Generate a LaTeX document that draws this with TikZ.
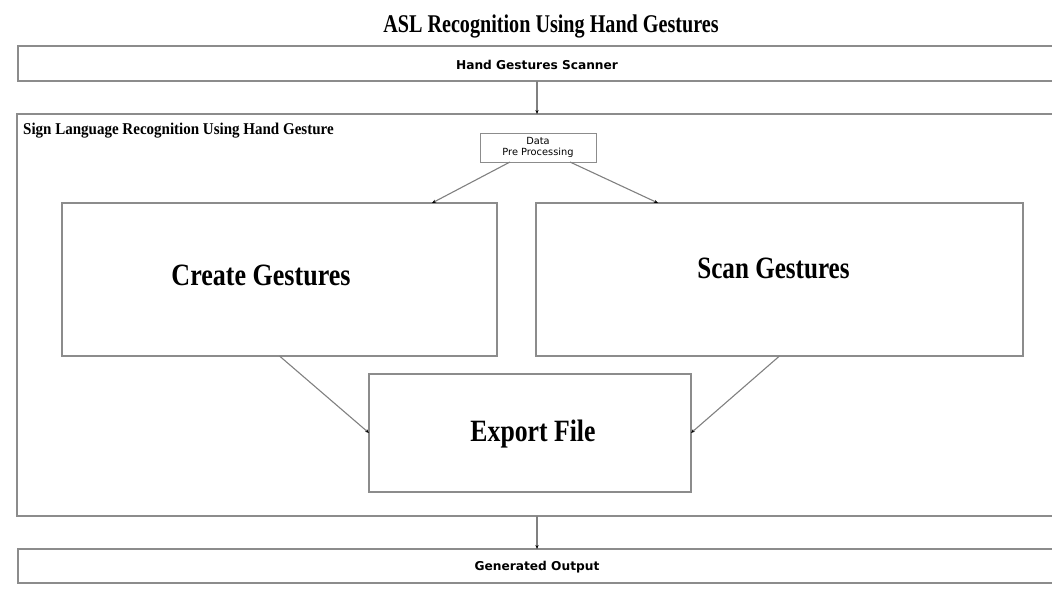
\documentclass[tikz,border=0pt]{standalone}
\usepackage{fontspec}
\usepackage{graphicx}
\setmainfont{Liberation Serif}
\newfontfamily\boxsans{DejaVu Sans}
\usetikzlibrary{arrows.meta,calc}

% horizontally condensed text
\newcommand{\squeeze}[2]{\scalebox{#1}[1]{#2}}

\tikzset{
  frame/.style={draw=black!45, line width=1.3pt, fill=none, inner sep=0pt, outer sep=0pt},
  link/.style={draw=black!50, line width=1.1pt,
    -{Stealth[length=4pt,width=3.2pt,color=black]}},
  bigtext/.style={font=\bfseries\fontsize{31}{36}\selectfont, inner sep=0pt},
  bartext/.style={font=\boxsans\bfseries\fontsize{12.2}{14}\selectfont, inner sep=0pt},
}

\begin{document}
\begin{tikzpicture}[x=1pt, y=-1pt]
\useasboundingbox (0,0) rectangle (1052,603);

% title
\node[inner sep=0pt, anchor=base, font=\bfseries\fontsize{25.5}{30}\selectfont]
  (title) at (551,32) {\squeeze{0.79}{ASL Recognition Using Hand Gestures}};

% input bar
\node[frame, minimum width=1038pt, minimum height=35pt] (scanner) at (537,63.5) {};
\node[bartext] (scannertext) at (537,64.5) {Hand Gestures Scanner};

% main container
\node[frame, minimum width=1040pt, minimum height=402pt] (system) at (537,315) {};
\node[anchor=base west, inner sep=0pt, font=\bfseries\fontsize{16.5}{20}\selectfont]
  (systemtext) at (23,134) {\squeeze{0.91}{Sign Language Recognition Using Hand Gesture}};

% pre-processing
\node[frame, line width=1pt, minimum width=116pt, minimum height=29pt,
  align=center, font=\boxsans\fontsize{9.8}{11}\selectfont] (prep) at (538,147.5)
  {Data\\Pre Processing};

% main stages
\node[frame, minimum width=435pt, minimum height=153pt] (create) at (279.5,279.5) {};
\node[bigtext] (createtext) at (261,275) {\squeeze{0.84}{Create Gestures}};

\node[frame, minimum width=487pt, minimum height=153pt] (scan) at (779.5,279.5) {};
\node[bigtext] (scantext) at (773.5,268) {\squeeze{0.81}{Scan Gestures}};

\node[frame, minimum width=322pt, minimum height=118pt] (export) at (530,433) {};
\node[bigtext] (exporttext) at (533,434) {\squeeze{0.83}{Export File}};

% output bar
\node[frame, minimum width=1038pt, minimum height=34pt] (output) at (537,566) {};
\node[bartext] (outputtext) at (537,567) {Generated Output};

% connectors
\coordinate (prepL) at ($(prep.south)+(-28,0)$);
\coordinate (prepR) at ($(prep.south)+(32,0)$);
\coordinate (createIn) at ($(create.north east)+(-65,0)$);
\coordinate (scanIn) at ($(scan.north west)+(122,0)$);

\draw[link] (scanner.south) -- (scanner.south |- system.north);
\draw[link] (prepL) -- (createIn);
\draw[link] (prepR) -- (scanIn);
\draw[link] (create.south) -- (export.west);
\draw[link] (scan.south) -- (export.east);
\draw[link] (system.south) -- (output.north);
\end{tikzpicture}
\end{document}
